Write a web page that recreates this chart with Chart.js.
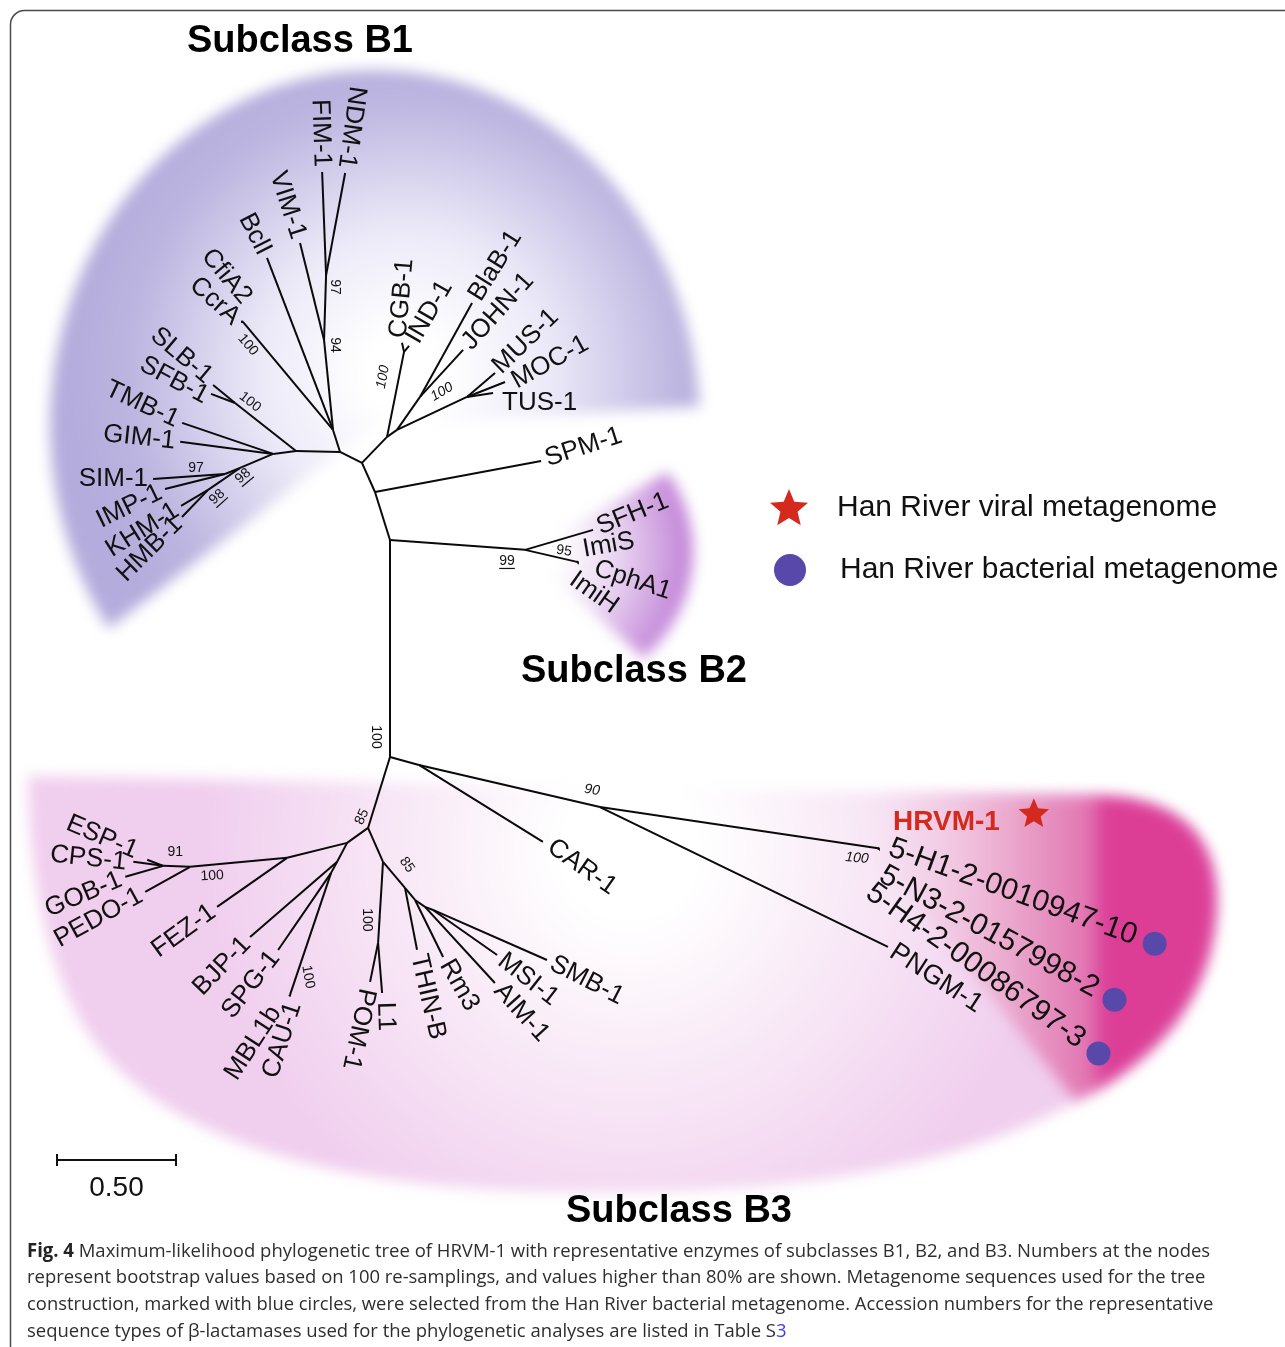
<!DOCTYPE html>
<html>
<head>
<meta charset="utf-8">
<script src="https://cdn.jsdelivr.net/npm/chart.js@4.4.1/dist/chart.umd.min.js"></script>
<style>
  html, body { margin: 0; padding: 0; background: #fff; }
  #wrap { position: relative; width: 1285px; height: 1347px; overflow: hidden; background: #fff; }
  #c { position: absolute; left: 0; top: 0; }
  .cap { position: absolute; left: 27px; white-space: nowrap; font-family: "Open Sans", "DejaVu Sans", sans-serif;
         font-size: 19px; line-height: 26px; height: 26px; color: #2e2e2e; transform-origin: 0 50%; }
  .cap b { font-weight: 700; color: #222; }
  .cap .lnk { color: #3a3af0; }
</style>
</head>
<body>
<div id="wrap">
  <canvas id="c" width="1285" height="1347"></canvas>
  <div class="cap" data-w="1183" style="top:1237px"><b>Fig. 4</b> Maximum-likelihood phylogenetic tree of HRVM-1 with representative enzymes of subclasses B1, B2, and B3. Numbers at the nodes</div>
  <div class="cap" data-w="1178" style="top:1263px">represent bootstrap values based on 100 re-samplings, and values higher than 80% are shown. Metagenome sequences used for the tree</div>
  <div class="cap" data-w="1186" style="top:1290px">construction, marked with blue circles, were selected from the Han River bacterial metagenome. Accession numbers for the representative</div>
  <div class="cap" data-w="760" style="top:1317px">sequence types of β-lactamases used for the phylogenetic analyses are listed in Table S<span class="lnk">3</span></div>
</div>
<script>
// ---- Tree data: [node, parent, branch length (substitutions per site)] ----
const trunkBranches = [
  ['B2J', 'root', 0.912], ['SPMJ', 'B2J', 0.211], ['B1J', 'SPMJ', 0.134],
  ['B3a', 'root', 0.312], ['CarJ', 'root', 0.126]
];
const b1Branches = [
  ['B1a', 'B1J', 0.103], ['Lft', 'B1a', 0.185], ['SLBJ', 'Lft', 0.326],
  ['SLB-1', 'SLBJ', 0.119], ['SFB-1', 'SLBJ', 0.108], ['GIMJ', 'Lft', 0.097],
  ['TMB-1', 'GIMJ', 0.404], ['GIM-1', 'GIMJ', 0.394], ['SIMJ', 'GIMJ', 0.151],
  ['SIJ', 'SIMJ', 0.068], ['SIM-1', 'SIJ', 0.303], ['IMP-1', 'SIJ', 0.260],
  ['KHJ', 'SIMJ', 0.163], ['KHM-1', 'KHJ', 0.132], ['HMB-1', 'KHJ', 0.158],
  ['UpJ', 'B1a', 0.097], ['CcrJ', 'UpJ', 0.591], ['CcrA', 'CcrJ', 0.006], ['CfiA2', 'CcrJ', 0.006],
  ['BclI', 'UpJ', 0.774], ['J94', 'UpJ', 0.380], ['VIM-1', 'J94', 0.420], ['J97', 'J94', 0.273],
  ['FIM-1', 'J97', 0.433], ['NDM-1', 'J97', 0.436],
  ['RJ', 'B1J', 0.152], ['CGBJ', 'RJ', 0.364], ['CGB-1', 'CGBJ', 0.039], ['IND-1', 'CGBJ', 0.033],
  ['BJ', 'RJ', 0.051], ['JJ', 'BJ', 0.169], ['BlaB-1', 'JJ', 0.451], ['JOHN-1', 'JJ', 0.268],
  ['TJ', 'BJ', 0.325], ['MUS-1', 'TJ', 0.155], ['MOC-1', 'TJ', 0.172], ['TUS-1', 'TJ', 0.111],
  ['SPM-1', 'SPMJ', 0.710]
];
const b2Branches = [
  ['B2N', 'B2J', 0.569], ['SFH-1', 'B2N', 0.298], ['J95', 'B2N', 0.224],
  ['ImiS', 'J95', 0.005], ['CphA1', 'J95', 0.005], ['ImiH', 'J95', 0.005]
];
const b3Branches = [
  ['CAR-1', 'CarJ', 0.613], ['J90', 'CarJ', 0.781], ['PNGM-1', 'J90', 1.345], ['J100', 'J90', 1.181],
  ['5-H1-2-0010947-10', 'J100', 0.005], ['5-N3-2-0157998-2', 'J100', 0.005], ['5-H4-2-00086797-3', 'J100', 0.005],
  ['LJ', 'B3a', 0.108], ['FezJ', 'LJ', 0.260], ['FEZ-1', 'FezJ', 0.359], ['PedJ', 'FezJ', 0.409],
  ['PEDO-1', 'PedJ', 0.216], ['EspJ', 'PedJ', 0.113], ['ESP-1', 'EspJ', 0.072], ['CPS-1', 'EspJ', 0.127],
  ['GOB-1', 'EspJ', 0.166], ['BjJ', 'LJ', 0.090], ['BJP-1', 'BjJ', 0.483], ['SpJ', 'BjJ', 0.053],
  ['SPG-1', 'SpJ', 0.393], ['CauJ', 'SpJ', 0.541], ['MBL1b', 'CauJ', 0.006], ['CAU-1', 'CauJ', 0.006],
  ['PomJ', 'B3a', 0.156], ['LpJ', 'PomJ', 0.341], ['POM-1', 'LpJ', 0.167], ['L1', 'LpJ', 0.211],
  ['J85b', 'PomJ', 0.143], ['THIN-B', 'J85b', 0.265], ['Rj', 'J85b', 0.066], ['Rm3', 'Rj', 0.267],
  ['Aj', 'Rj', 0.051], ['AIM-1', 'Aj', 0.434], ['Mj', 'Aj', 0.036], ['MSI-1', 'Mj', 0.329], ['SMB-1', 'Mj', 0.523]
];

// Bootstrap support (%) at internal nodes
const bootstrapNodes  = ['J97', 'J94', 'CcrJ', 'SLBJ', 'SIJ', 'SIMJ', 'KHJ', 'CGBJ', 'TJ', 'B2N', 'J95',
                         'root', 'B3a', 'J85b', 'EspJ', 'PedJ', 'LpJ', 'CauJ', 'J90', 'J100'];
const bootstrapValues = [97, 94, 100, 100, 97, 98, 98, 100, 100, 99, 95,
                         100, 85, 85, 91, 100, 100, 100, 90, 100];

// Metagenome-derived sequences
const viralTips = ['HRVM-1'];
const bacterialTips = ['5-H1-2-0010947-10', '5-N3-2-0157998-2', '5-H4-2-00086797-3'];

// Scale bar length (substitutions per site)
const scaleBarLength = 0.5;
const scaleBarLabel = '0.50';

// ---- Layout (unrooted drawing) ----
const PX_PER_UNIT = 238;
const W = 1285, H = 1347;
const ROOT = { x: 390 / PX_PER_UNIT, y: 757 / PX_PER_UNIT };

// direction in which each branch is drawn, degrees (screen orientation, y down)
const branchAngle = {
  B2J: -90, SPMJ: -107.4, B1J: -114.1, B3a: 107.2, CarJ: 15.4,
  B1a: -153.4, Lft: -178.7, SLBJ: -141.8, 'SLB-1': -140.7, 'SFB-1': -159.4, GIMJ: 172.6,
  'TMB-1': -161.2, 'GIM-1': -172.6, SIMJ: 157, SIJ: 158.2, 'SIM-1': 176, 'IMP-1': 166,
  KHJ: 145.5, 'KHM-1': 149.3, 'HMB-1': 133.9, UpJ: -107.7, CcrJ: -129.8, CcrA: -130, CfiA2: -120,
  BclI: -111, J94: -95.7, 'VIM-1': -103.9, J97: -88.2, 'FIM-1': -92.2, 'NDM-1': -79.4,
  RJ: -46.1, CGBJ: -78.7, 'CGB-1': -102.5, 'IND-1': -50.2, BJ: -35, JJ: -55.1, 'BlaB-1': -61,
  'JOHN-1': -47.5, TJ: -25.2, 'MUS-1': -40.6, 'MOC-1': -21.5, 'TUS-1': -8.7, 'SPM-1': -10.6,
  B2N: 4.2, 'SFH-1': -16.4, J95: 13, ImiS: -10, CphA1: 20, ImiH: 40,
  'CAR-1': 31.8, J90: 13.1, 'PNGM-1': 25.9, J100: 8.4,
  '5-H1-2-0010947-10': 20, '5-N3-2-0157998-2': 30, '5-H4-2-00086797-3': 40,
  LJ: 144.5, FezJ: 166, 'FEZ-1': 145, PedJ: 174.7, 'PEDO-1': 150.9, EspJ: -177.9, 'ESP-1': -159.4,
  'CPS-1': -172.4, 'GOB-1': 163.9, BjJ: 117.8, 'BJP-1': 139.2, SpJ: 118.6, 'SPG-1': 124.5,
  CauJ: 108.6, MBL1b: 115, 'CAU-1': 100, PomJ: 66.2, LpJ: 93.5, 'POM-1': 101.6, L1: 85.4,
  J85b: 49.8, 'THIN-B': 79, Rj: 50.2, Rm3: 63.8, Aj: 35, 'AIM-1': 47.4, Mj: 20.6, 'MSI-1': 35.1, 'SMB-1': 23.7
};

// tip label: [rotation deg, 'l' text starts at tip / 'r' text ends at tip, extra dx, extra dy, font px]
const tipLabelLayout = {
  'NDM-1': [98, 'r', 0, 0], 'FIM-1': [88, 'r', 0, 0], 'VIM-1': [72, 'r', 0, 0], 'BclI': [63, 'r', 0, 0],
  'CfiA2': [50, 'r', 8, -16], 'CcrA': [42, 'r', -2, 3], 'SLB-1': [40, 'r', 0, -3], 'SFB-1': [28, 'r', 0, 6],
  'TMB-1': [25, 'r', 0, 0], 'GIM-1': [6, 'r', 0, 0], 'SIM-1': [0, 'r', 0, 0], 'IMP-1': [-26, 'r', 0, 0],
  'KHM-1': [-32, 'r', 0, 0], 'HMB-1': [-45, 'r', 0, 0],
  'CGB-1': [-85, 'l', -4, 0], 'IND-1': [-60, 'l', 1, 0], 'BlaB-1': [-58, 'l', 0, 0], 'JOHN-1': [-48, 'l', 0, 0],
  'MUS-1': [-44, 'l', -2, 0], 'MOC-1': [-29, 'l', 4, 3], 'TUS-1': [0, 'l', 4, 10], 'SPM-1': [-18, 'l', 0, 0],
  'SFH-1': [-22, 'l', 0, 0], 'ImiS': [-10, 'l', 0, -11], 'CphA1': [18, 'l', 12, 4], 'ImiH': [35, 'l', -10, 12],
  'ESP-1': [23, 'r', -6, -6], 'CPS-1': [6, 'r', -2, 1], 'GOB-1': [-23, 'r', 0, 0], 'PEDO-1': [-29, 'r', 0, 0],
  'FEZ-1': [-36, 'r', 0, 0], 'BJP-1': [-46, 'r', 0, 0], 'SPG-1': [-52, 'r', 0, 0],
  'MBL1b': [-57, 'r', -11, 8], 'CAU-1': [-72, 'r', 6, 2],
  'POM-1': [102, 'l', -2, 2], 'L1': [88, 'l', 3, 4], 'THIN-B': [77, 'l', 0, 0], 'Rm3': [60, 'l', 0, 0],
  'AIM-1': [48, 'l', 0, 0], 'MSI-1': [38, 'l', 0, 0], 'SMB-1': [27, 'l', 0, 0], 'CAR-1': [35, 'l', 3, 0],
  'PNGM-1': [33, 'l', 0, 0, 27],
  '5-H1-2-0010947-10': [20, 'l', 6, -3, 30], '5-N3-2-0157998-2': [28.5, 'l', -2, 22, 30],
  '5-H4-2-00086797-3': [35.5, 'l', -14, 38, 30]
};

// bootstrap label placement: [dx, dy, rotation, style flags (u = underline, i = italic)]
const bootstrapLayout = [
  [9, 12, 90, ''], [11, 5, 90, ''], [5, 23, 50, ''], [15, -1, 38, ''], [-29, -6, 0, ''],
  [3, 8, -40, 'u'], [9, 7, -42, 'u'], [-21, 25, -80, 'i'], [-25, -5, -30, 'i'], [-18, 11, 0, 'u'],
  [-13, -11, 8, ''], [-14, -20, 90, ''], [-6, -11, -65, ''], [2, -23, 55, ''], [12, -14, 0, ''],
  [22, 9, -3, ''], [-11, -23, 90, ''], [18, -18, 80, ''], [-8, -17, 8, 'i'], [-21, 10, 5, 'i']
];

const FONT = '"Liberation Sans", Arial, Helvetica, sans-serif';

// ---- node positions from branch lengths ----
const allBranches = [...trunkBranches, ...b1Branches, ...b2Branches, ...b3Branches];
const nodes = { root: { x: ROOT.x, y: ROOT.y } };
allBranches.forEach(([child, parent, len]) => {
  const a = branchAngle[child] * Math.PI / 180;
  nodes[child] = { x: nodes[parent].x + len * Math.cos(a), y: nodes[parent].y + len * Math.sin(a) };
});

const datasets = allBranches.map(([child, parent]) => ({
  label: child,
  data: [{ x: nodes[parent].x, y: nodes[parent].y }, { x: nodes[child].x, y: nodes[child].y }],
  showLine: true,
  borderColor: '#0a0a0a',
  borderWidth: 2,
  pointRadius: 0,
  fill: false
}));

// ---- drawing helpers ----
function drawText(ctx, txt, x, y, rotDeg, align, font, color) {
  ctx.save();
  ctx.translate(x, y);
  ctx.rotate(rotDeg * Math.PI / 180);
  ctx.font = font;
  ctx.textAlign = align;
  ctx.textBaseline = 'middle';
  ctx.fillStyle = color;
  ctx.fillText(txt, 0, 0);
  const w = ctx.measureText(txt).width;
  ctx.restore();
  return w;
}

function drawStar(ctx, cx, cy, R, r, color) {
  ctx.save();
  ctx.beginPath();
  for (let i = 0; i < 10; i++) {
    const a = -Math.PI / 2 + i * Math.PI / 5;
    const rr = i % 2 ? r : R;
    ctx.lineTo(cx + rr * Math.cos(a), cy + rr * Math.sin(a));
  }
  ctx.closePath();
  ctx.fillStyle = color;
  ctx.fill();
  ctx.restore();
}

function drawDot(ctx, cx, cy, r, color) {
  ctx.save();
  ctx.beginPath();
  ctx.arc(cx, cy, r, 0, Math.PI * 2);
  ctx.fillStyle = color;
  ctx.fill();
  ctx.restore();
}

function subclassB3Outline(ctx) {
  ctx.beginPath();
  ctx.moveTo(28, 776);
  ctx.lineTo(1100, 796);
  ctx.quadraticCurveTo(1218, 800, 1216, 905);
  ctx.quadraticCurveTo(1212, 1020, 1100, 1088);
  ctx.bezierCurveTo(950, 1180, 750, 1195, 560, 1192);
  ctx.bezierCurveTo(330, 1188, 150, 1140, 80, 1020);
  ctx.quadraticCurveTo(30, 930, 28, 776);
  ctx.closePath();
}

const deg = Math.PI / 180;

const treeDecor = {
  id: 'treeDecor',
  beforeDatasetsDraw(chart) {
    const ctx = chart.ctx;
    ctx.save();
    ctx.fillStyle = '#fff';
    ctx.fillRect(0, 0, W, H);

    // subclass B3 shading
    ctx.filter = 'blur(7px)';
    subclassB3Outline(ctx);
    const g3 = ctx.createRadialGradient(630, 850, 70, 630, 850, 430);
    g3.addColorStop(0, 'rgb(255,255,255)');
    g3.addColorStop(0.45, 'rgb(248,232,246)');
    g3.addColorStop(1, 'rgb(240,206,238)');
    ctx.fillStyle = g3;
    ctx.fill();

    // metagenome clade band
    ctx.beginPath();
    ctx.moveTo(868, 794);
    ctx.lineTo(1100, 796);
    ctx.quadraticCurveTo(1218, 800, 1216, 905);
    ctx.quadraticCurveTo(1212, 1020, 1100, 1088);
    ctx.lineTo(1075, 1100);
    ctx.lineTo(880, 860);
    ctx.closePath();
    const gm = ctx.createLinearGradient(870, 0, 1112, 0);
    gm.addColorStop(0, 'rgba(245,210,232,0)');
    gm.addColorStop(0.35, 'rgba(240,196,222,0.9)');
    gm.addColorStop(0.6, 'rgb(234,165,203)');
    gm.addColorStop(0.9, 'rgb(226,118,178)');
    gm.addColorStop(0.97, 'rgb(220,64,152)');
    gm.addColorStop(1, 'rgb(220,62,150)');
    ctx.fillStyle = gm;
    ctx.fill();

    // subclass B1 shading
    ctx.beginPath();
    ctx.moveTo(375, 425);
    ctx.ellipse(375, 425, 325, 355, 0, 145 * deg, 357 * deg);
    ctx.closePath();
    const g1 = ctx.createRadialGradient(405, 375, 40, 405, 375, 335);
    g1.addColorStop(0, 'rgb(255,255,255)');
    g1.addColorStop(0.35, 'rgb(236,234,248)');
    g1.addColorStop(0.8, 'rgb(188,181,224)');
    g1.addColorStop(1, 'rgb(180,172,220)');
    ctx.fillStyle = g1;
    ctx.fill();

    // subclass B2 shading
    ctx.beginPath();
    ctx.moveTo(525, 552);
    ctx.ellipse(525, 552, 168, 150, 0, -32 * deg, 45 * deg);
    ctx.closePath();
    const g2 = ctx.createRadialGradient(525, 552, 35, 525, 552, 165);
    g2.addColorStop(0, 'rgb(255,255,255)');
    g2.addColorStop(0.45, 'rgb(232,212,240)');
    g2.addColorStop(1, 'rgb(194,132,216)');
    ctx.fillStyle = g2;
    ctx.fill();
    ctx.restore();
  },
  afterDatasetsDraw(chart) {
    const ctx = chart.ctx;
    const X = v => chart.scales.x.getPixelForValue(v);
    const Y = v => chart.scales.y.getPixelForValue(v);

    // frame
    ctx.save();
    ctx.strokeStyle = '#4a4a4a';
    ctx.lineWidth = 1.5;
    ctx.beginPath();
    ctx.roundRect(10.5, 10.5, 1400, 1400, 14);
    ctx.stroke();
    ctx.restore();

    // tip labels
    const labelEnds = {};
    Object.entries(tipLabelLayout).forEach(([name, [rot, side, dx, dy, size]]) => {
      const n = nodes[name];
      const px = X(n.x), py = Y(n.y);
      const r = rot * deg, s = side === 'l' ? 1 : -1, gap = 5;
      const ax = px + s * gap * Math.cos(r) + dx;
      const ay = py + s * gap * Math.sin(r) + dy;
      const font = (size || 26) + 'px ' + FONT;
      const w = drawText(ctx, name, ax, ay, rot, side === 'l' ? 'left' : 'right', font, '#111');
      labelEnds[name] = { x: ax + w * Math.cos(r), y: ay + w * Math.sin(r), rot: r };
    });

    // bacterial metagenome markers
    bacterialTips.forEach(name => {
      const e = labelEnds[name];
      drawDot(ctx, e.x + 20 * Math.cos(e.rot), e.y + 20 * Math.sin(e.rot), 12, 'rgb(88,72,170)');
    });

    // viral metagenome sequence
    viralTips.forEach(name => {
      const n = nodes['J100'];
      const ax = X(n.x) + 15, ay = Y(n.y) - 26;
      const w = drawText(ctx, name, ax, ay, 0, 'left', 'bold 28px ' + FONT, '#d42a1e');
      drawStar(ctx, ax + w + 34, ay - 8, 16, 7.2, '#d42a1e');
    });

    // bootstrap values
    bootstrapNodes.forEach((id, i) => {
      const [dx, dy, rot, flags] = bootstrapLayout[i];
      const n = nodes[id];
      const cx = X(n.x) + dx, cy = Y(n.y) + dy;
      const font = (flags.includes('i') ? 'italic ' : '') + '14px ' + FONT;
      ctx.save();
      ctx.translate(cx, cy);
      ctx.rotate(rot * deg);
      ctx.font = font;
      ctx.textAlign = 'center';
      ctx.textBaseline = 'middle';
      ctx.fillStyle = '#111';
      const txt = String(bootstrapValues[i]);
      ctx.fillText(txt, 0, 0);
      if (flags.includes('u')) {
        const w = ctx.measureText(txt).width;
        ctx.fillRect(-w / 2, 7, w, 1.2);
      }
      ctx.restore();
    });

    // subclass titles
    const titleFont = 'bold 38px ' + FONT;
    drawText(ctx, 'Subclass B1', 300, 42, 0, 'center', titleFont, '#000');
    drawText(ctx, 'Subclass B2', 634, 672, 0, 'center', titleFont, '#000');
    drawText(ctx, 'Subclass B3', 679, 1212, 0, 'center', titleFont, '#000');

    // legend
    drawStar(ctx, 789, 509, 20, 9, '#d42a1e');
    drawText(ctx, 'Han River viral metagenome', 837, 508, 0, 'left', '30px ' + FONT, '#111');
    drawDot(ctx, 790, 570, 16, 'rgb(88,72,170)');
    drawText(ctx, 'Han River bacterial metagenome', 840, 570, 0, 'left', '30px ' + FONT, '#111');

    // scale bar
    const sx0 = X(57 / PX_PER_UNIT), sx1 = X(57 / PX_PER_UNIT + scaleBarLength);
    const sy = Y(1160 / PX_PER_UNIT);
    ctx.save();
    ctx.strokeStyle = '#111';
    ctx.lineWidth = 2;
    ctx.beginPath();
    ctx.moveTo(sx0, sy); ctx.lineTo(sx1, sy);
    ctx.moveTo(sx0, sy - 6); ctx.lineTo(sx0, sy + 6);
    ctx.moveTo(sx1, sy - 6); ctx.lineTo(sx1, sy + 6);
    ctx.stroke();
    ctx.restore();
    drawText(ctx, scaleBarLabel, (sx0 + sx1) / 2, sy + 28, 0, 'center', '28px ' + FONT, '#111');
  }
};

new Chart(document.getElementById('c'), {
  type: 'scatter',
  data: { datasets },
  options: {
    responsive: false,
    animation: false,
    devicePixelRatio: 1,
    events: [],
    layout: { padding: 0 },
    plugins: { legend: { display: false }, tooltip: { enabled: false }, title: { display: false } },
    scales: {
      x: { type: 'linear', min: 0, max: W / PX_PER_UNIT, display: false },
      y: { type: 'linear', min: 0, max: H / PX_PER_UNIT, reverse: true, display: false }
    }
  },
  plugins: [treeDecor]
});

// fit caption lines to their column width
document.querySelectorAll('.cap').forEach(el => {
  const w = el.scrollWidth;
  el.style.transform = 'scaleX(' + (+el.dataset.w / w).toFixed(4) + ')';
});
</script>
</body>
</html>
